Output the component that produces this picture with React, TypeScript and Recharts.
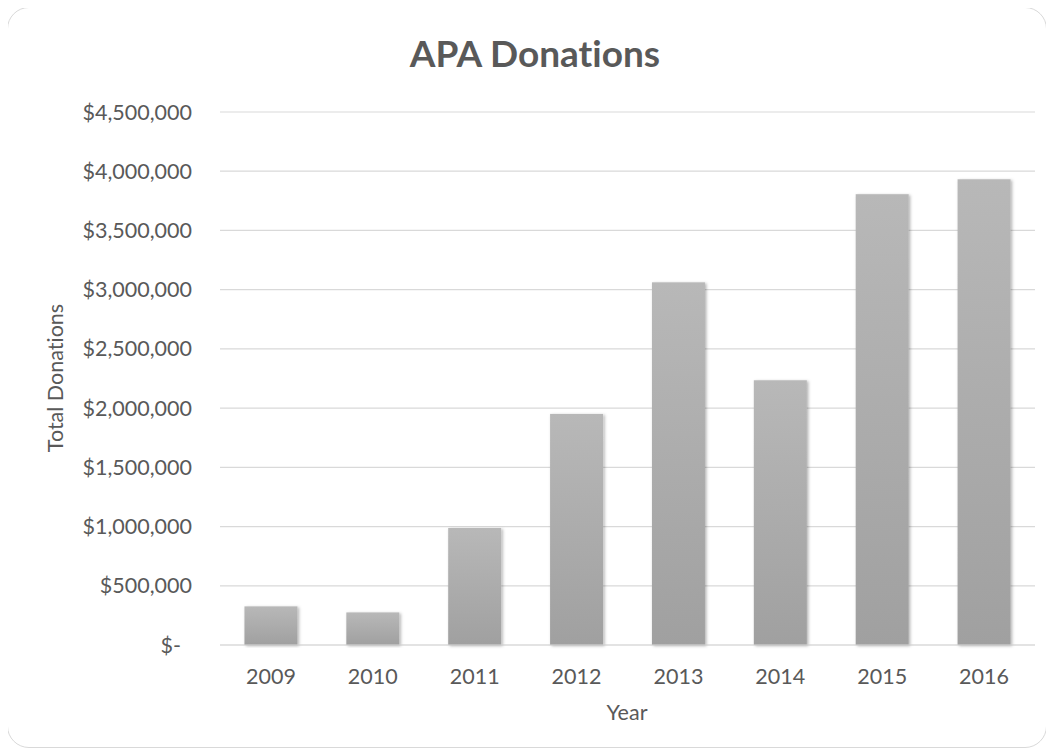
import { BarChart, Bar, XAxis, YAxis, CartesianGrid } from 'recharts'

const YEARS = ['2009', '2010', '2011', '2012', '2013', '2014', '2015', '2016']
const DONATIONS = [326000, 275000, 988000, 1951000, 3062000, 2235000, 3806000, 3932000]
const Y_TICKS = [0, 500000, 1000000, 1500000, 2000000, 2500000, 3000000, 3500000, 4000000, 4500000]

const FONT = 'Lato, "Open Sans", sans-serif'
const TEXT = '#595959'

const money = (v: number) => (v === 0 ? '$-' : '$' + v.toLocaleString('en-US'))

function YTick({ x, y, payload }: any) {
  const zero = payload.value === 0
  return (
    <text x={zero ? x - 11 : x} y={y} dy="0.35em" textAnchor="end" fill={TEXT} fontSize={21.5} fontFamily={FONT}>
      {money(payload.value)}
    </text>
  )
}

function ShadowBar({ x, y, width, height }: any) {
  if (!height || height <= 0) return null
  return <rect x={x} y={y} width={width} height={height} fill="url(#barGrad)" filter="url(#barShadow)" />
}

export default function App() {
  const data = YEARS.map((year, i) => ({ year, donations: DONATIONS[i] }))

  return (
    <div
      style={{
        position: 'relative',
        width: 1040,
        height: 741,
        margin: '-1px 0 0 -1px',
        border: '1px solid #d9d9d9',
        borderRadius: 22,
        boxSizing: 'border-box',
        background: '#fff',
        fontFamily: FONT,
        fontVariantLigatures: 'none',
      }}
    >
      <svg width={0} height={0} style={{ position: 'absolute' }}>
        <defs>
          <linearGradient id="barGrad" x1="0" y1="0" x2="0" y2="1">
            <stop offset="0%" stopColor="#b8b8b8" />
            <stop offset="100%" stopColor="#a0a0a0" />
          </linearGradient>
          <filter id="barShadow" x="-20%" y="-5%" width="140%" height="112%">
            <feDropShadow dx="1.5" dy="1" stdDeviation="1.8" floodColor="#000" floodOpacity="0.3" />
          </filter>
        </defs>
      </svg>

      <div
        style={{
          position: 'absolute',
          left: 327,
          top: 26,
          width: 400,
          textAlign: 'center',
          fontSize: 37,
          lineHeight: '37px',
          fontWeight: 700,
          color: TEXT,
        }}
      >
        APA Donations
      </div>

      <div
        style={{
          position: 'absolute',
          left: 55 - 8 - 100,
          top: 378 - 8 - 13,
          width: 200,
          height: 26,
          lineHeight: '26px',
          textAlign: 'center',
          fontSize: 21.5,
          color: TEXT,
          transform: 'rotate(-90deg)',
        }}
      >
        Total Donations
      </div>

      <div
        style={{
          position: 'absolute',
          left: 627 - 8 - 100,
          top: 699 - 8,
          width: 200,
          textAlign: 'center',
          fontSize: 21.5,
          lineHeight: '26px',
          color: TEXT,
        }}
      >
        Year
      </div>

      <div style={{ position: 'absolute', left: 0, top: 0 }}>
        <BarChart
          width={1038}
          height={739}
          data={data}
          barCategoryGap="24%"
          margin={{ top: 104, right: 11, bottom: 52, left: 82 }}
        >
          <CartesianGrid vertical={false} stroke="#d9d9d9" strokeWidth={1.2} />
          <XAxis
            dataKey="year"
            height={50}
            axisLine={{ stroke: '#d9d9d9', strokeWidth: 1.2 }}
            tickLine={false}
            tickMargin={18}
            tick={{ fill: TEXT, fontSize: 21.5, fontFamily: FONT }}
          />
          <YAxis
            width={130}
            domain={[0, 4500000]}
            ticks={Y_TICKS}
            interval={0}
            axisLine={false}
            tickLine={false}
            tickMargin={22}
            tick={<YTick />}
          />
          <Bar dataKey="donations" isAnimationActive={false} shape={<ShadowBar />} />
        </BarChart>
      </div>
    </div>
  )
}
